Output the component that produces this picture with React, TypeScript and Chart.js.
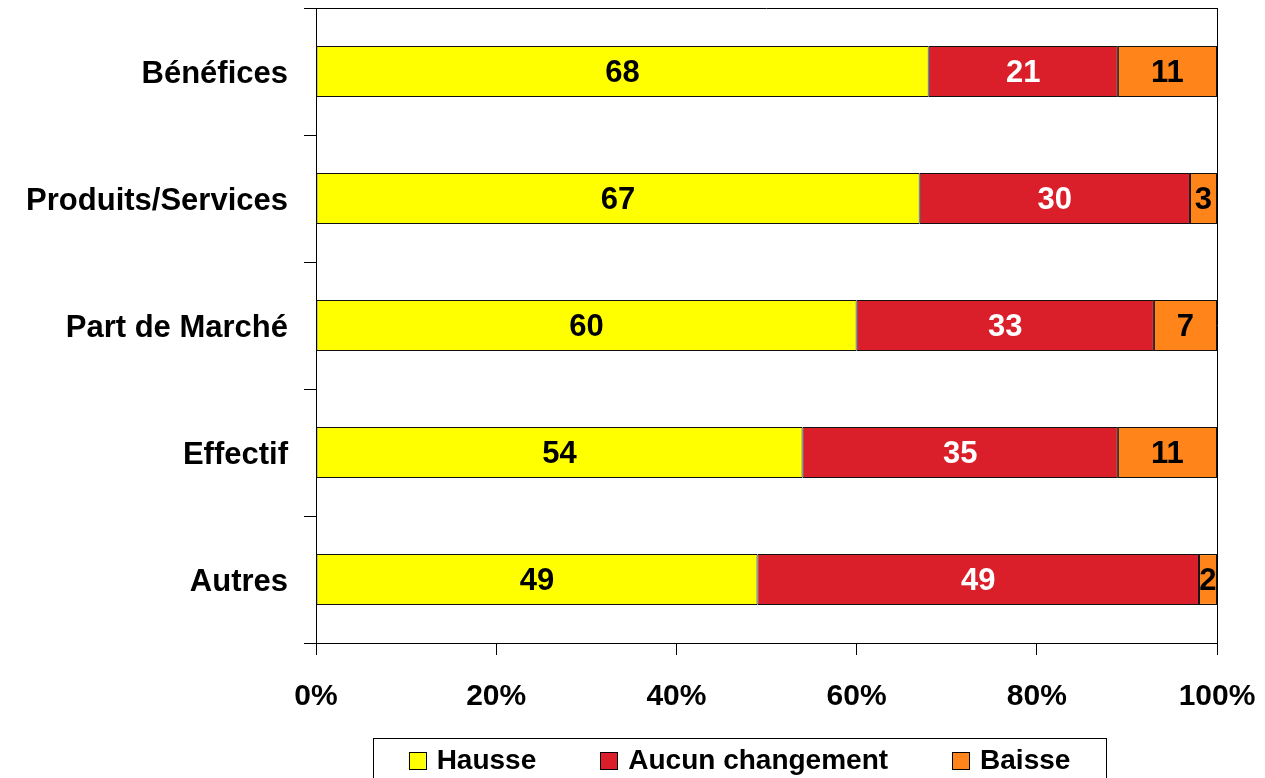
import React, { useEffect, useRef } from "react";
import { Chart, registerables } from "chart.js";

Chart.register(...registerables);

const categories = ["Bénéfices", "Produits/Services", "Part de Marché", "Effectif", "Autres"];
const hausse = [68, 67, 60, 54, 49];
const aucunChangement = [21, 30, 33, 35, 49];
const baisse = [11, 3, 7, 11, 2];
const seriesNames = ["Hausse", "Aucun changement", "Baisse"];
const seriesColors = ["#FFFF00", "#DA1F2B", "#FF851B"];
const labelColors = ["#000000", "#FFFFFF", "#000000"];
const xTickStep = 20;

const FONT = '"Liberation Sans", Arial, sans-serif';

const framePlugin = {
  id: "frame",
  afterDraw(chart: any) {
    const { ctx, chartArea } = chart;
    ctx.save();
    ctx.strokeStyle = "#000";
    ctx.lineWidth = 1;
    ctx.beginPath();
    ctx.moveTo(chartArea.left, Math.round(chartArea.top) + 0.5);
    ctx.lineTo(chartArea.right, Math.round(chartArea.top) + 0.5);
    ctx.moveTo(Math.round(chartArea.right) + 0.5, chartArea.top);
    ctx.lineTo(Math.round(chartArea.right) + 0.5, chartArea.bottom);
    ctx.stroke();
    ctx.restore();
  },
};

const valueLabelPlugin = {
  id: "valueLabels",
  afterDatasetsDraw(chart: any) {
    const { ctx } = chart;
    ctx.save();
    ctx.font = `bold 31px ${FONT}`;
    ctx.textAlign = "center";
    ctx.textBaseline = "middle";
    chart.data.datasets.forEach((ds: any, di: number) => {
      const meta = chart.getDatasetMeta(di);
      meta.data.forEach((el: any, i: number) => {
        const v = ds.data[i];
        const cx = (el.x + el.base) / 2;
        ctx.fillStyle = labelColors[di];
        ctx.fillText(String(v), cx, el.y + 2);
      });
    });
    ctx.restore();
  },
};

const legendPlugin = {
  id: "customLegend",
  afterDraw(chart: any) {
    const { ctx } = chart;
    const boxLeft = 373;
    const boxRight = 1106;
    const boxTop = 738;
    const centerX = (boxLeft + boxRight) / 2;
    const centerY = 760.5;
    const marker = 17;
    const markerGap = 11;
    const itemGap = 64;
    ctx.save();
    ctx.strokeStyle = "#000";
    ctx.lineWidth = 1;
    ctx.strokeRect(boxLeft + 0.5, boxTop + 0.5, boxRight - boxLeft, 80);
    ctx.font = `bold 28px ${FONT}`;
    ctx.textBaseline = "middle";
    ctx.textAlign = "left";
    const widths = seriesNames.map((n) => ctx.measureText(n).width);
    const total =
      widths.reduce((a, w) => a + w + marker + markerGap, 0) + itemGap * (seriesNames.length - 1);
    let x = centerX - total / 2;
    seriesNames.forEach((n, i) => {
      ctx.fillStyle = seriesColors[i];
      ctx.fillRect(x, centerY - marker / 2, marker, marker);
      ctx.strokeStyle = "#000";
      ctx.strokeRect(Math.round(x) + 0.5, Math.round(centerY - marker / 2) + 0.5, marker, marker);
      ctx.fillStyle = "#000";
      ctx.fillText(n, x + marker + markerGap, centerY + 1);
      x += marker + markerGap + widths[i] + itemGap;
    });
    ctx.restore();
  },
};

export default function App() {
  const canvasRef = useRef<HTMLCanvasElement>(null);

  useEffect(() => {
    if (!canvasRef.current) return;
    const series = [hausse, aucunChangement, baisse];
    const chart = new Chart(canvasRef.current, {
      type: "bar",
      data: {
        labels: categories,
        datasets: series.map((d, i) => ({
          label: seriesNames[i],
          data: d,
          backgroundColor: seriesColors[i],
          borderColor: "#111111",
          borderWidth: 1,
          borderSkipped: false,
          categoryPercentage: 1,
          barPercentage: 0.4,
        })),
      },
      options: {
        indexAxis: "y",
        responsive: false,
        animation: false,
        devicePixelRatio: 1,
        layout: { padding: { top: 8, right: 48, left: 0, bottom: 0 } },
        plugins: {
          legend: { display: false },
          tooltip: { enabled: false },
        },
        scales: {
          x: {
            stacked: true,
            min: 0,
            max: 100,
            ticks: {
              stepSize: xTickStep,
              color: "#000",
              font: { family: FONT, size: 30, weight: "bold" },
              padding: 24,
              maxRotation: 0,
              callback: (v: any) => `${v}%`,
            },
            grid: {
              drawOnChartArea: false,
              drawTicks: true,
              tickLength: 12,
              color: "#000",
            },
            border: { display: true, color: "#000", width: 1 },
            afterFit: (s: any) => {
              s.height = 135;
              s.paddingLeft = 0;
              s.paddingRight = 0;
              s.paddingTop = 0;
              s.paddingBottom = 0;
            },
          },
          y: {
            stacked: true,
            ticks: {
              color: "#000",
              font: { family: FONT, size: 31, weight: "bold" },
              padding: 16,
              labelOffset: 3,
            },
            grid: {
              offset: true,
              drawOnChartArea: false,
              drawTicks: true,
              tickLength: 12,
              color: "#000",
            },
            border: { display: true, color: "#000", width: 1 },
            afterFit: (s: any) => {
              s.width = 316;
              s.paddingLeft = 0;
              s.paddingRight = 0;
              s.paddingTop = 0;
              s.paddingBottom = 0;
            },
          },
        },
      },
      plugins: [framePlugin, valueLabelPlugin, legendPlugin],
    } as any);
    return () => chart.destroy();
  }, []);

  return (
    <div style={{ position: "fixed", left: 0, top: 0, width: 1265, height: 778, background: "#fff" }}>
      <canvas ref={canvasRef} width={1265} height={778} style={{ display: "block" }} />
    </div>
  );
}
